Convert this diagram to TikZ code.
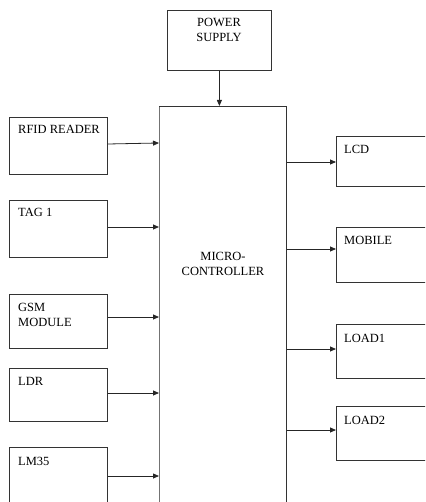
\documentclass[tikz,border=0pt]{standalone}
\usepackage{fontspec}
\setmainfont{Liberation Serif}
\usetikzlibrary{arrows.meta}
\begin{document}
\begin{tikzpicture}[x=1pt,y=-1pt,
  blk/.style={draw=black!80, line width=0.8pt, anchor=north west, inner sep=0pt},
  lbl/.style={font=\fontsize{12.5}{15}\selectfont, anchor=base west, inner sep=0pt, align=left},
  ctr/.style={font=\fontsize{12.5}{15}\selectfont, anchor=base, inner sep=0pt, align=center},
  conn/.style={draw=black!85, line width=0.8pt, -{Triangle[length=6pt,width=5pt]}}]
\useasboundingbox (0,0) rectangle (425,502);
\clip (0,0) rectangle (425,502);
% power supply
\node[blk, minimum width=104, minimum height=60] (ps) at (167,10) {};
\node[ctr] (pst) at (219,42) {POWER\\SUPPLY};
% microcontroller
\node[blk, draw=none, minimum width=127, minimum height=420] (mc) at (159,106) {};
\draw[black!55, line width=1pt] (mc.south west) -- (mc.north west);
\draw[black!80, line width=0.8pt] (mc.north west) -- (mc.north east) -- (mc.south east);
\node[ctr] (mct) at (223,275) {MICRO-\\CONTROLLER};
% left boxes
\node[blk, minimum width=98, minimum height=57] (rfid) at (9,117) {};
\node[blk, minimum width=98, minimum height=57] (tag) at (9,200) {};
\node[blk, minimum width=98, minimum height=54] (gsm) at (9,294) {};
\node[blk, minimum width=98, minimum height=53] (ldr) at (9,368) {};
\node[blk, minimum width=98, minimum height=70] (lm) at (9,447) {};
\node[lbl] (rfidt) at (18,134) {RFID READER};
\node[lbl] (tagt) at (18,217) {TAG 1};
\node[lbl] (gsmt) at (18,326) {GSM\\MODULE};
\node[lbl] (ldrt) at (18,385) {LDR};
\node[lbl] (lmt) at (18,465) {LM35};
% right boxes
\node[blk, minimum width=110, minimum height=50] (lcd) at (336,136) {};
\node[blk, minimum width=110, minimum height=55] (mob) at (336,227) {};
\node[blk, minimum width=110, minimum height=54] (l1) at (336,324) {};
\node[blk, minimum width=110, minimum height=54] (l2) at (336,406) {};
\node[lbl] (lcdt) at (344,154) {LCD};
\node[lbl] (mobt) at (344,244) {MOBILE};
\node[lbl] (l1t) at (344,342) {LOAD1};
\node[lbl] (l2t) at (344,424) {LOAD2};
% connectors
\draw[conn] (ps.south) -- (mc.north -| ps.south);
\draw[conn] (rfid.east |- 0,144) -- (mc.west |- 0,143);
\draw[conn] (tag.east |- 0,227) -- (mc.west |- 0,227);
\draw[conn] (gsm.east |- 0,317) -- (mc.west |- 0,317);
\draw[conn] (ldr.east |- 0,393) -- (mc.west |- 0,393);
\draw[conn] (lm.east |- 0,476) -- (mc.west |- 0,476);
\draw[conn] (mc.east |- 0,162) -- (lcd.west |- 0,162);
\draw[conn] (mc.east |- 0,249) -- (mob.west |- 0,249);
\draw[conn] (mc.east |- 0,349) -- (l1.west |- 0,349);
\draw[conn] (mc.east |- 0,430) -- (l2.west |- 0,430);
\end{tikzpicture}
\end{document}
